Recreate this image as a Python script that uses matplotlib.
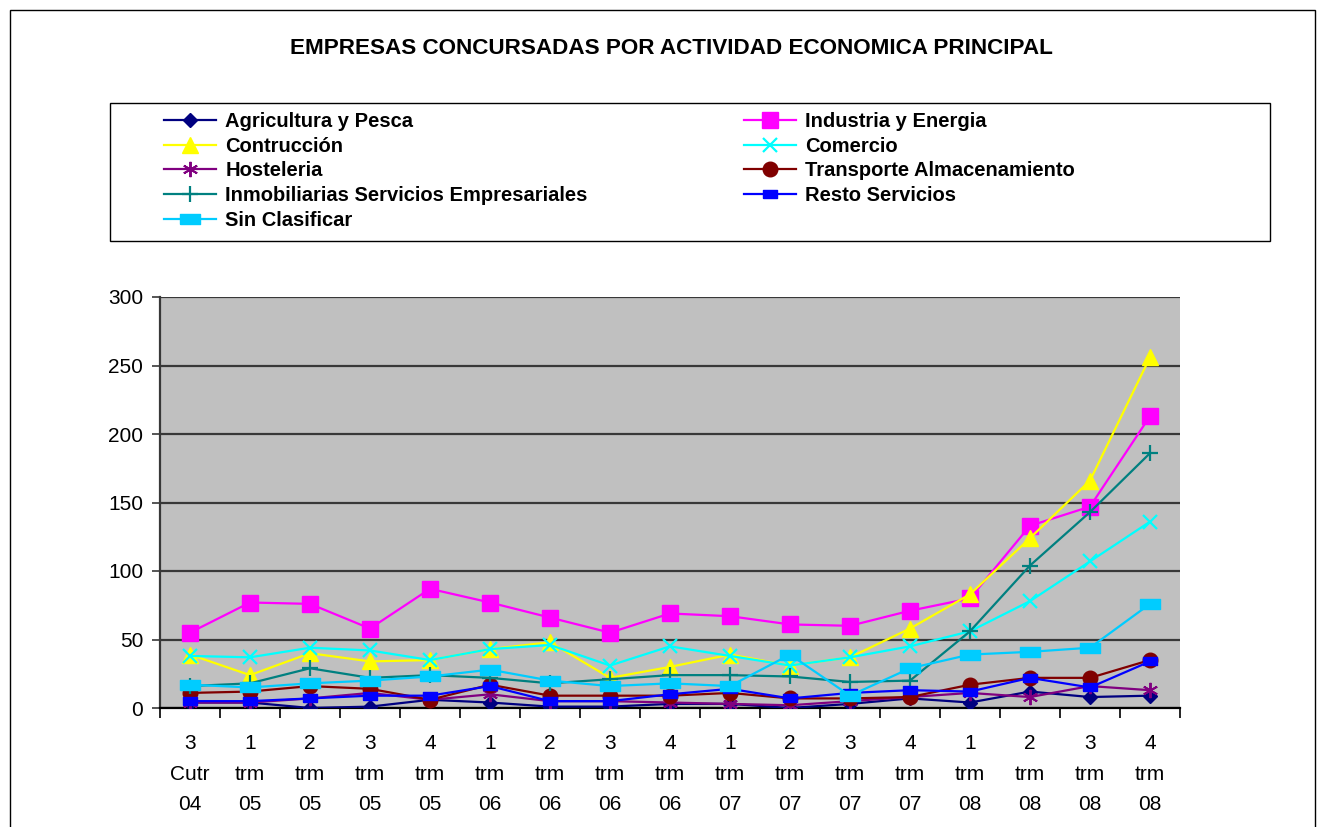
import matplotlib
matplotlib.use("Agg")
import matplotlib.pyplot as plt
from matplotlib.patches import Rectangle
import numpy as np

plt.rcParams['font.family'] = ['Liberation Sans', 'DejaVu Sans']

categories = ["3\nCutr\n04", "1\ntrm\n05", "2\ntrm\n05", "3\ntrm\n05", "4\ntrm\n05",
              "1\ntrm\n06", "2\ntrm\n06", "3\ntrm\n06", "4\ntrm\n06",
              "1\ntrm\n07", "2\ntrm\n07", "3\ntrm\n07", "4\ntrm\n07",
              "1\ntrm\n08", "2\ntrm\n08", "3\ntrm\n08", "4\ntrm\n08"]

agricultura = [4, 4, 0, 1, 6, 4, 1, 1, 3, 3, 0, 3, 7, 4, 12, 8, 9]
industria = [55, 77, 76, 58, 87, 77, 66, 55, 69, 67, 61, 60, 71, 80, 133, 147, 213]
contruccion = [39, 24, 40, 34, 35, 43, 48, 22, 30, 39, 31, 37, 58, 83, 124, 166, 256]
comercio = [38, 37, 44, 42, 35, 43, 46, 31, 45, 38, 31, 37, 45, 56, 78, 107, 136]
hosteleria = [4, 4, 7, 11, 6, 10, 5, 5, 4, 3, 2, 5, 8, 11, 8, 16, 13]
transporte = [11, 12, 16, 14, 6, 17, 9, 9, 9, 11, 7, 7, 8, 17, 22, 22, 35]
inmobiliarias = [16, 18, 29, 22, 24, 22, 18, 21, 24, 24, 23, 19, 20, 56, 104, 143, 186]
resto = [5, 5, 7, 9, 9, 16, 5, 5, 10, 14, 7, 11, 13, 12, 22, 15, 34]
sin_clasificar = [17, 15, 18, 20, 23, 28, 20, 16, 18, 16, 39, 9, 29, 39, 41, 44, 76]

names = ["Agricultura y Pesca", "Industria y Energia", "Contrucción", "Comercio",
         "Hosteleria", "Transporte Almacenamiento",
         "Inmobiliarias Servicios Empresariales", "Resto Servicios", "Sin Clasificar"]

rect_marker = [(-1, -0.55), (1, -0.55), (1, 0.55), (-1, 0.55), (-1, -0.55)]
styles = [
    dict(color='#000080', marker='D', ms=7),
    dict(color='#FF00FF', marker='s', ms=11),
    dict(color='#FFFF00', marker='^', ms=11),
    dict(color='#00FFFF', marker='x', ms=10, mew=1.6),
    dict(color='#800080', marker=(6, 2, 0), ms=11, mew=1.4),
    dict(color='#800000', marker='o', ms=10.5),
    dict(color='#008080', marker='+', ms=11, mew=1.6),
    dict(color='#0000FF', marker=rect_marker, ms=10),
    dict(color='#00CCFF', marker=rect_marker, ms=14),
]
series = [agricultura, industria, contruccion, comercio, hosteleria,
          transporte, inmobiliarias, resto, sin_clasificar]

W, H = 1325, 827
fig = plt.figure(figsize=(W / 100, H / 100), dpi=100)
fig.patch.set_facecolor('white')

# outer chart frame
fig.patches.append(Rectangle((10 / W, -0.05), (1315 - 10) / W, 1.05 - 10 / H,
                             transform=fig.transFigure, fill=False,
                             edgecolor='black', lw=1.0))

ax = fig.add_axes([160 / W, 1 - 708 / H, (1180 - 160) / W, (708 - 297) / H])
ax.set_facecolor('#C0C0C0')

x = np.arange(len(categories))
handles = []
for name, vals, st in zip(names, series, styles):
    h, = ax.plot(x, vals, lw=1.6, label=name, zorder=3,
                 markeredgecolor=st['color'], **st)
    handles.append(h)

ax.set_xlim(-0.5, len(categories) - 0.5)
ax.set_ylim(0, 300)
ax.set_yticks(np.arange(0, 301, 50))
ax.yaxis.grid(True, color='#383838', lw=1.6, zorder=1)
ax.set_axisbelow(True)
ax.set_xticks(x)
ax.set_xticklabels(categories, fontsize=15, linespacing=1.77)
ax.set_xticks(np.arange(-0.5, len(categories), 1), minor=True)
ax.tick_params(axis='x', which='major', length=0, pad=19)
ax.tick_params(axis='x', which='minor', length=7, width=1.2, direction='out', color='black')
ax.tick_params(axis='y', length=6, width=1.2, direction='out', labelsize=15, pad=6, color='#383838')
for s in ['top', 'right']:
    ax.spines[s].set_visible(False)
ax.spines['left'].set_color('#383838')
ax.spines['left'].set_linewidth(1.6)
ax.spines['bottom'].set_color('black')
ax.spines['bottom'].set_linewidth(1.6)

fig.text(671 / W, 1 - 48 / H, "EMPRESAS CONCURSADAS POR ACTIVIDAD ECONOMICA PRINCIPAL",
         ha='center', va='center', fontsize=16.2, fontweight='bold')

# legend box
fig.patches.append(Rectangle((110 / W, 1 - 241 / H), (1270 - 110) / W, (241 - 103) / H,
                             transform=fig.transFigure, fill=False,
                             edgecolor='black', lw=1.0))
left_idx = [0, 2, 4, 6, 8]
right_idx = [1, 3, 5, 7]
common = dict(frameon=False, prop=dict(size=14.5, weight='bold'), handlelength=2.6,
              handletextpad=0.45, labelspacing=0.28, borderpad=0, borderaxespad=0,
              numpoints=1)
leg1 = fig.legend([handles[i] for i in left_idx], [names[i] for i in left_idx],
                  loc='upper left', bbox_to_anchor=(164 / W, 1 - 112 / H), **common)
leg2 = fig.legend([handles[i] for i in right_idx], [names[i] for i in right_idx],
                  loc='upper left', bbox_to_anchor=(744 / W, 1 - 112 / H), **common)

fig.savefig("out.png", dpi=100)
